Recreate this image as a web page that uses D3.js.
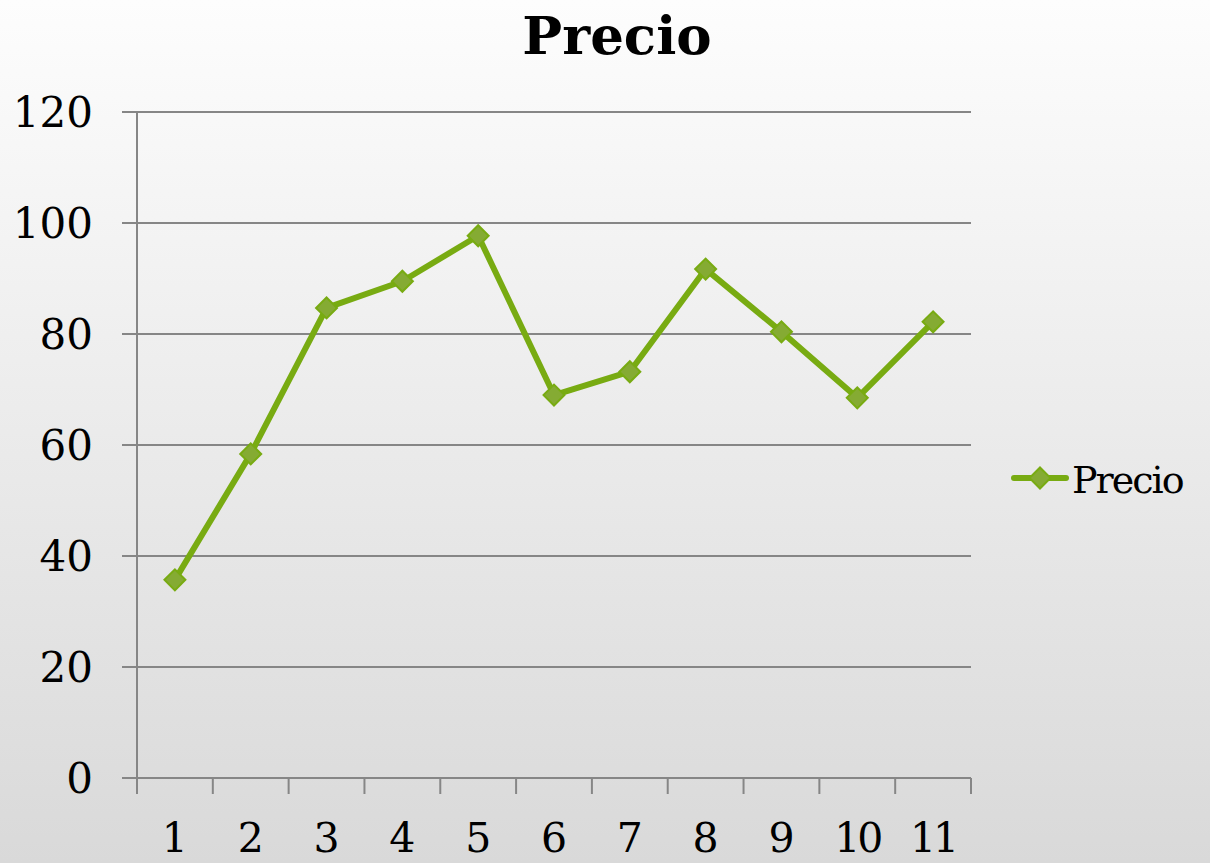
<!DOCTYPE html>
<html>
<head>
<meta charset="utf-8">
<script src="https://cdn.jsdelivr.net/npm/d3@7"></script>
<style>
  body { margin: 0; }
  text { font-family: "DejaVu Serif", "Liberation Serif", serif; }
</style>
</head>
<body>
<svg id="chart" width="1210" height="863"></svg>
<script>
// data
var categories = ["1", "2", "3", "4", "5", "6", "7", "8", "9", "10", "11"];
var precio = [35.7, 58.4, 84.7, 89.5, 97.7, 69.0, 73.2, 91.7, 80.4, 68.5, 82.2];
var yTicks = [0, 20, 40, 60, 80, 100, 120];
var seriesName = "Precio";

var svg = d3.select('#chart');
var svgWidth = +svg.attr('width');
var svgHeight = +svg.attr('height');

// background gradient
var defs = svg.append('defs');
var grad = defs.append('linearGradient')
    .attr('id', 'bg')
    .attr('x1', 0).attr('y1', 0).attr('x2', 0).attr('y2', 1);
grad.append('stop').attr('offset', '0%').attr('stop-color', '#fdfdfd');
grad.append('stop').attr('offset', '100%').attr('stop-color', '#d9d9d9');

svg.append('rect')
    .attr('width', svgWidth)
    .attr('height', svgHeight)
    .attr('fill', 'url(#bg)');

var plot = {l: 137, r: 971, t: 112, b: 778};

var xScale = d3.scaleBand()
    .domain(categories)
    .range([plot.l, plot.r]);

var yScale = d3.scaleLinear()
    .domain([0, 120])
    .range([plot.b, plot.t]);

// gridlines
svg.append('g')
    .selectAll('line')
    .data(yTicks)
    .enter()
    .append('line')
    .attr('x1', plot.l - 15)
    .attr('x2', plot.r)
    .attr('y1', function(d) { return yScale(d); })
    .attr('y2', function(d) { return yScale(d); })
    .attr('stroke', '#868686')
    .attr('stroke-width', 2);

// y axis line
svg.append('line')
    .attr('x1', plot.l).attr('x2', plot.l)
    .attr('y1', plot.t).attr('y2', plot.b)
    .attr('stroke', '#868686')
    .attr('stroke-width', 2);

// x ticks
var xTickPos = categories.map(function(c) { return xScale(c); }).concat([plot.r]);
svg.append('g')
    .selectAll('line')
    .data(xTickPos)
    .enter()
    .append('line')
    .attr('x1', function(d) { return d; })
    .attr('x2', function(d) { return d; })
    .attr('y1', plot.b)
    .attr('y2', plot.b + 16)
    .attr('stroke', '#868686')
    .attr('stroke-width', 2);

// y labels
svg.append('g')
    .selectAll('text')
    .data(yTicks)
    .enter()
    .append('text')
    .attr('x', 93)
    .attr('y', function(d) { return yScale(d) + 15; })
    .attr('text-anchor', 'end')
    .attr('font-size', 42)
    .attr('fill', '#000')
    .text(function(d) { return d; });

// x labels
svg.append('g')
    .selectAll('text')
    .data(categories)
    .enter()
    .append('text')
    .attr('x', function(d) { return xScale(d) + xScale.bandwidth() / 2; })
    .attr('y', 852)
    .attr('text-anchor', 'middle')
    .attr('font-size', 41)
    .attr('letter-spacing', function(d) { return d.length > 1 ? -3 : 0; })
    .attr('fill', '#000')
    .text(function(d) { return d; });

// title
svg.append('text')
    .attr('x', 617)
    .attr('y', 54)
    .attr('text-anchor', 'middle')
    .attr('font-size', 53)
    .attr('font-weight', 'bold')
    .text('Precio');

// line
var line = d3.line()
    .x(function(d, i) { return xScale(categories[i]) + xScale.bandwidth() / 2; })
    .y(function(d) { return yScale(d); });

svg.append('path')
    .datum(precio)
    .attr('d', line)
    .attr('fill', 'none')
    .attr('stroke', '#78ab12')
    .attr('stroke-width', 6)
    .attr('stroke-linejoin', 'round');

var diamond = d3.symbol().type(d3.symbolSquare).size(220);

svg.append('g')
    .selectAll('path')
    .data(precio)
    .enter()
    .append('path')
    .attr('d', diamond)
    .attr('transform', function(d, i) {
        return 'translate(' + (xScale(categories[i]) + xScale.bandwidth() / 2) + ',' + yScale(d) + ') rotate(45)';
    })
    .attr('fill', '#85ab33')
    .attr('stroke', '#78ab12')
    .attr('stroke-width', 2);

// legend
var legend = svg.append('g').attr('transform', 'translate(1040,478)');
legend.append('line')
    .attr('x1', -26).attr('x2', 26)
    .attr('y1', 0).attr('y2', 0)
    .attr('stroke', '#78ab12')
    .attr('stroke-width', 6)
    .attr('stroke-linecap', 'round');
legend.append('path')
    .attr('d', diamond)
    .attr('transform', 'rotate(45)')
    .attr('fill', '#85ab33')
    .attr('stroke', '#78ab12')
    .attr('stroke-width', 2);
legend.append('text')
    .attr('x', 32)
    .attr('y', 15)
    .attr('font-size', 38)
    .attr('letter-spacing', -2)
    .text(seriesName);
</script>
</body>
</html>
